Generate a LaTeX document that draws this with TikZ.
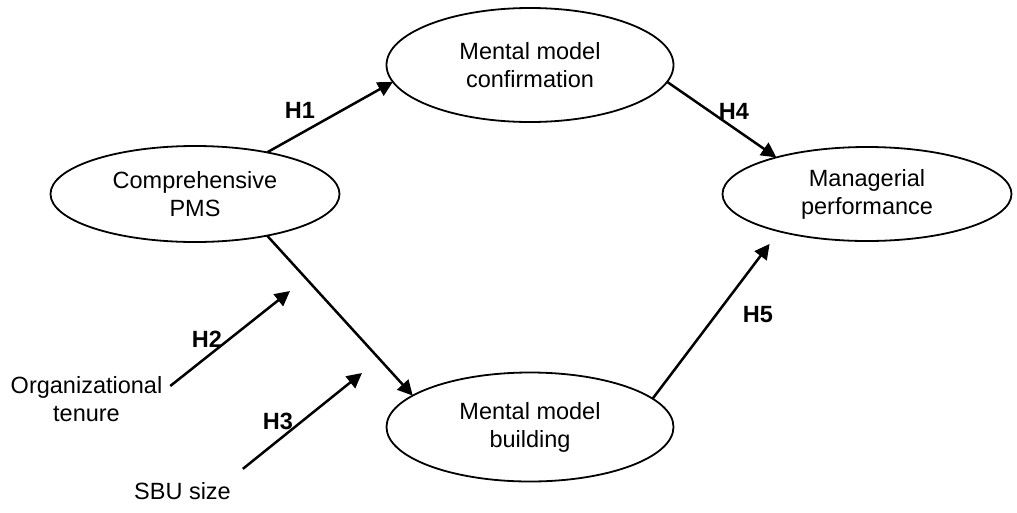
\documentclass[tikz,border=0pt]{standalone}
\usepackage{fontspec}
\setmainfont{Liberation Sans}
\usetikzlibrary{shapes.geometric,arrows.meta}
\begin{document}
\begin{tikzpicture}[x=1pt,y=-1pt,
  every node/.style={font=\fontsize{23.5}{28}\selectfont, inner sep=0pt, outer sep=0pt},
  var/.style={ellipse, draw, line width=1.8pt, align=center},
  hlab/.style={font=\fontsize{23.5}{28}\selectfont\bfseries},
  txt/.style={align=center},
  arr/.style={line width=2.5pt, -{Triangle[length=15pt,width=15pt]}}]
\useasboundingbox (0,0) rectangle (1017,512);

% constructs
\node[var, minimum width=289pt, minimum height=96pt] (pms) at (195,194) {Comprehensive\\PMS};
\node[var, minimum width=287pt, minimum height=114pt] (mmc) at (530,65) {Mental model\\confirmation};
\node[var, minimum width=287pt, minimum height=109pt] (mmb) at (530,427) {Mental model\\building};
\node[var, minimum width=289pt, minimum height=94pt] (mp) at (867,194) {Managerial\\performance};

% moderators
\node[txt] (org) at (86.5,399) {Organizational\\tenure};
\node[txt] (sbu) at (182.5,491.5) {SBU size};
\coordinate (h2end) at (290,291);
\coordinate (h3end) at (362,373);

% paths
\draw[arr] (pms.30) -- (mmc.187.6);
\draw[arr] (mmc.-7.5) -- (mp.158.6);
\draw[arr] (pms.-30) -- (mmb.165.5);
\draw[arr, shorten >=15.8pt] (mmb.13.8) -- (mp.203.2);
\draw[arr] ([xshift=8pt,yshift=13pt]org.east) -- (h2end);
\draw[arr] ([xshift=12pt,yshift=14pt]sbu.north east) -- (h3end);

% hypothesis labels
\node[hlab] (h1) at (300,110) {H1};
\node[hlab] (h2) at (207,339) {H2};
\node[hlab] (h3) at (278,421) {H3};
\node[hlab] (h4) at (734,111) {H4};
\node[hlab] (h5) at (758,315) {H5};
\end{tikzpicture}
\end{document}
